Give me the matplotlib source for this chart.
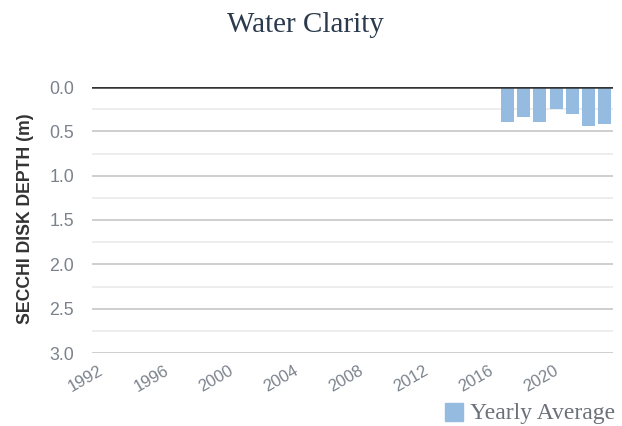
import matplotlib
matplotlib.use("Agg")
import matplotlib.pyplot as plt
from matplotlib.transforms import ScaledTranslation

# Data
years = [2017, 2018, 2019, 2020, 2021, 2022, 2023]
depth = [0.39, 0.335, 0.39, 0.245, 0.31, 0.435, 0.415]
tick_years = [1992, 1996, 2000, 2004, 2008, 2012, 2016, 2020]
y_ticks = [0.0, 0.5, 1.0, 1.5, 2.0, 2.5, 3.0]
y_minor = [0.25, 0.75, 1.25, 1.75, 2.25, 2.75]

W, H = 622, 426
fig = plt.figure(figsize=(W / 100, H / 100), dpi=100)
L, R, T, B = 92, 613, 87, 353
ax = fig.add_axes([L / W, 1 - B / H, (R - L) / W, (B - T) / H])

tick_color = "#7b828c"
ax.set_xlim(1991.41, 2023.5)
ax.set_ylim(3.0, 0.0)
ax.bar(years, depth, width=0.8, color="#96bbe0", zorder=2)

ax.set_xticks(tick_years)
ax.set_xticklabels([str(t) for t in tick_years], rotation=30, ha="right",
                   va="top", rotation_mode="anchor", fontsize=12,
                   color=tick_color, family="Liberation Sans")
ax.tick_params(axis="x", length=0, pad=7)
shift = ScaledTranslation(-3 / 100, 0, fig.dpi_scale_trans)
for lab in ax.get_xticklabels():
    lab.set_transform(lab.get_transform() + shift)
ax.set_yticks(y_ticks)
ax.set_yticklabels([f"{v:.1f}" for v in y_ticks], fontsize=12.8,
                   color=tick_color, family="Liberation Sans")
ax.set_yticks(y_minor, minor=True)
ax.tick_params(axis="y", which="both", length=0, pad=13)
for s in ax.spines.values():
    s.set_visible(False)
for v in y_ticks:
    ax.axhline(v, color="#cccccc", lw=1.3, zorder=0)
for v in y_minor:
    ax.axhline(v, color="#ececec", lw=1.3, zorder=0)
ax.axhline(0.0, color="#333333", lw=1.8, zorder=3)

fig.text(25.5 / W, 1 - 219 / H, "SECCHI DISK DEPTH (m)", rotation=90,
         ha="center", va="center", fontsize=12.7, fontweight="bold",
         color="#333333", family="Liberation Sans")

fig.text(305.5 / W, 1 - 25 / H, "Water Clarity", ha="center", va="center",
         fontsize=21, color="#2a3a4c", family="Liberation Serif")

# legend
fig.patches.append(plt.Rectangle(
    (445 / W, 1 - 421 / H), 18 / W, 18 / H, transform=fig.transFigure,
    color="#96bbe0", figure=fig))
fig.text(470 / W, 1 - 413 / H, "Yearly Average", ha="left", va="center",
         fontsize=17, color="#6b7079", family="Liberation Serif")

fig.savefig("out.png", dpi=100)
